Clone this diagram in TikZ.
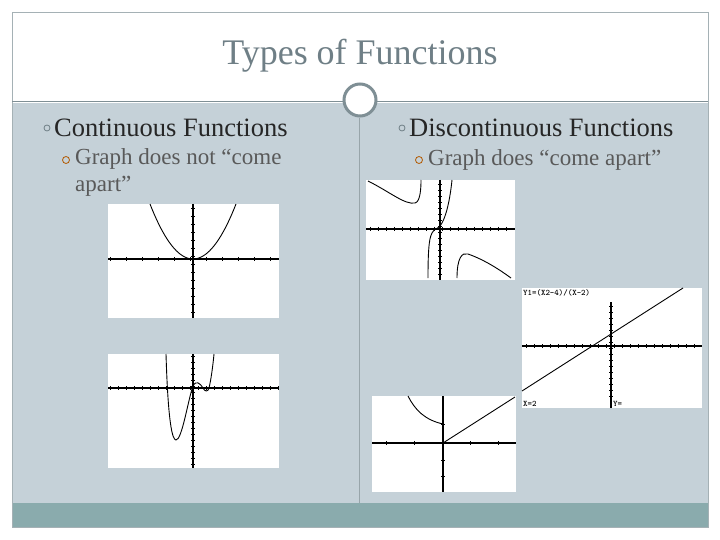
\documentclass[tikz,border=0pt]{standalone}
\usepackage{fontspec}
\setmainfont{Liberation Serif}
\begin{document}
\begin{tikzpicture}[x=1pt,y=-1pt,
  graphbox/.style={fill=white,draw=none},
  axis/.style={line width=1.6pt,black},
  curve/.style={line width=0.9pt,black},
  bul/.style={circle,draw=#1,line width=0.8pt,minimum size=7pt,inner sep=0pt}]
\definecolor{bodyg}{HTML}{C5D1D8}
\definecolor{barg}{HTML}{8AABAD}
\definecolor{titleg}{HTML}{6F7F86}
\definecolor{ringg}{HTML}{7F8F95}
\useasboundingbox (0,0) rectangle (720,540);
\fill[white] (0,0) rectangle (720,540);
\fill[bodyg] (12,103) rectangle (708,503);
\fill[barg] (12,503) rectangle (708,527);
\draw[ringg!70,line width=0.6pt] (12,12) rectangle (708,527);
\draw[ringg,line width=0.8pt] (12,101) -- (708,101);
\draw[ringg!80,line width=0.6pt] (359,118) -- (359,503);
\node[circle,fill=white,draw=ringg,line width=3pt,minimum size=32pt] (ring) at (360,100) {};
\node[text=titleg,font=\fontsize{36}{40}\selectfont] (title) at (360,56) {Types of Functions};
% headings
\node[bul=titleg,minimum size=6pt] (b1) at (47,128) {};
\node[anchor=west,font=\fontsize{26.5}{30}\selectfont,text=black!85,inner sep=0pt] (h1) at (54,128) {Continuous Functions};
\node[bul=titleg,minimum size=6pt] (b2) at (402,128) {};
\node[anchor=west,font=\fontsize{26.5}{30}\selectfont,text=black!85,inner sep=0pt] (h2) at (409,128) {Discontinuous Functions};
\node[bul=orange!70!black] (s1) at (66,160) {};
\node[anchor=north west,font=\fontsize{23}{27}\selectfont,text=black!65,align=left,inner sep=0pt] (t1) at (75,148) {Graph does not ``come\\apart''};
\node[bul=orange!70!black] (s2) at (419,160) {};
\node[anchor=west,font=\fontsize{23}{27}\selectfont,text=black!65,inner sep=0pt] (t2) at (428,160) {Graph does ``come apart''};
% graph L1
\fill[graphbox] (108,204) rectangle (279,318);
\draw[axis] (108,259) -- (279,259); \draw[axis] (193,204) -- (193,318);
\foreach \x in {110,126,...,278} \draw[line width=0.8pt] (\x,257) -- (\x,261);
\foreach \y in {208,216,...,316} \draw[line width=0.8pt] (191,\y) -- (195,\y);
\draw[curve,domain=-43:43,samples=40] plot ({193+\x},{259-55*(\x/43)^2});
% graph L2
\fill[graphbox] (108,354) rectangle (279,468);
\draw[axis] (108,388) -- (279,388); \draw[axis] (193,354) -- (193,468);
\foreach \x in {110,118,...,278} \draw[line width=0.8pt] (\x,386) -- (\x,390);
\foreach \y in {356,362,...,466} \draw[line width=0.8pt] (191,\y) -- (195,\y);
\draw[curve] (166,354) .. controls (168,420) and (172,440) .. (176,440)
  .. controls (182,440) and (188,400) .. (193,386)
  .. controls (196,380) and (200,383) .. (203,388)
  .. controls (205,392) and (208,392) .. (209,388)
  .. controls (211,380) and (213,365) .. (214,354);
% graph R1
\fill[graphbox] (366,180) rectangle (515,280);
\draw[axis] (366,229) -- (515,229); \draw[axis] (440,180) -- (440,280);
\foreach \x in {370,378,...,512} \draw[line width=0.8pt] (\x,227) -- (\x,231);
\foreach \y in {184,190,...,278} \draw[line width=0.8pt] (438,\y) -- (442,\y);
\draw[curve] (368,181) .. controls (390,192) and (405,205) .. (415,203) .. controls (420,202) and (421,190) .. (421,180);
\draw[curve] (428,278) .. controls (428,240) and (430,232) .. (436,229) .. controls (445,226) and (450,200) .. (452,180);
\draw[curve] (457,278) .. controls (457,258) and (462,252) .. (468,254) .. controls (485,260) and (500,270) .. (511,278);
% graph R2
\fill[graphbox] (522,288) rectangle (702,408);
\draw[axis] (522,346) -- (702,346); \draw[axis] (611,302) -- (611,408);
\foreach \x in {526,534,...,700} \draw[line width=0.8pt] (\x,344) -- (\x,348);
\foreach \y in {306,312,...,398} \draw[line width=0.8pt] (609,\y) -- (613,\y);
\draw[curve] (522,391) -- (683,288);
\node[anchor=north west,font=\ttfamily\bfseries\fontsize{8.5}{9}\selectfont,inner sep=1pt] (f) at (522,288) {Y1=(X2-4)/(X-2)};
\node[anchor=south west,font=\ttfamily\bfseries\fontsize{8.5}{9}\selectfont,inner sep=1pt] (xl) at (522,408) {X=2};
\node[anchor=south west,font=\ttfamily\bfseries\fontsize{8.5}{9}\selectfont,inner sep=1pt] (yl) at (612,408) {Y=};
% graph R3
\fill[graphbox] (372,396) rectangle (516,492);
\draw[axis] (372,443) -- (516,443); \draw[axis] (443,396) -- (443,492);
\foreach \x in {386,414,...,512} \draw[line width=0.8pt] (\x,441) -- (\x,445);
\foreach \y in {424,460,476} \draw[line width=0.8pt] (441,\y) -- (445,\y);
\draw[curve] (443,443) -- (515,397);
\draw[curve] (408,396) .. controls (415,410) and (425,420) .. (443,424);
\end{tikzpicture}
\end{document}
